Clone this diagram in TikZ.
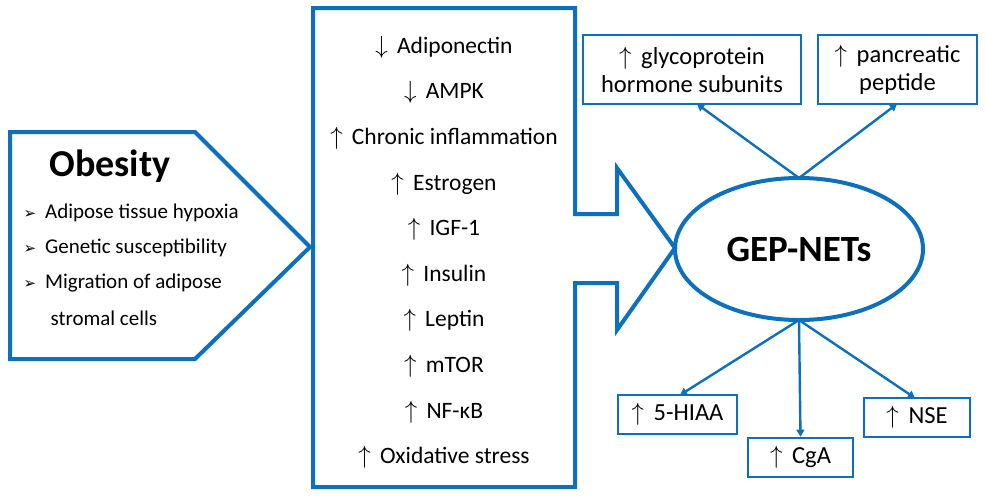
\documentclass[tikz,border=0pt]{standalone}
\usepackage{fontspec}
\setmainfont{Carlito}
\newfontfamily\symf{DejaVu Sans}
\usetikzlibrary{arrows.meta}
\definecolor{mb}{RGB}{12,112,190}
\begin{document}
\begin{tikzpicture}[x=1pt,y=-1pt,
  thick shape/.style={draw=mb,line width=4pt,line join=miter},
  sbox/.style={draw=mb,line width=2.6pt,align=center,font=\fontsize{24.5}{28}\selectfont},
  conn/.style={draw=mb,line width=2.4pt,-{Triangle[length=7pt,width=8pt]}},
  lst/.style={font=\fontsize{23.5}{26}\selectfont,anchor=center},
  bul/.style={font=\fontsize{21}{24}\selectfont,anchor=west}]
\useasboundingbox (0,0) rectangle (986,498);
% left pentagon
\draw[thick shape] (10,132) -- (195,132) -- (310,247) -- (195,359) -- (10,359) -- cycle;
\node[font=\fontsize{38}{42}\selectfont\bfseries] (ob) at (110,166) {Obesity};
\foreach \t/\y [count=\i] in {Adipose tissue hypoxia/213,Genetic susceptibility/248,Migration of adipose/283}
  \node[bul] (b\i) at (20,\y) {{\symf\fontsize{15}{16}\selectfont ➢}\hspace{9pt}\t};
\node[bul] (b4) at (47,318) {stromal cells};
% middle box with arrow
\draw[thick shape] (313,8) -- (575,8) -- (575,214) -- (617,214) -- (617,168) -- (675,248) -- (617,330) -- (617,283) -- (575,283) -- (575,487) -- (313,487) -- cycle;
\foreach \t [count=\i] in {$\downarrow$\, Adiponectin,$\downarrow$\, AMPK,$\uparrow$\, Chronic inflammation,$\uparrow$\, Estrogen,$\uparrow$\, IGF-1,$\uparrow$\, Insulin,$\uparrow$\, Leptin,$\uparrow$\, mTOR,$\uparrow$\, NF-κB,$\uparrow$\, Oxidative stress}
  \node[lst] (m\i) at (444,{47+(\i-1)*45.6}) {\t};
% ellipse
\draw[draw=mb,line width=4pt] (799,249) ellipse [x radius=124pt, y radius=71pt];
\coordinate (et) at (799,178);
\coordinate (eb) at (799,320);
\node[font=\fontsize{37}{40}\selectfont\bfseries] (gep) at (799,250) {GEP-NETs};
% boxes
\node[sbox,minimum width=218pt,minimum height=69pt] (g) at (692,69.5) {$\uparrow$\, glycoprotein\\hormone subunits};
\node[sbox,minimum width=159pt,minimum height=69pt] (p) at (897.5,69.5) {$\uparrow$\, pancreatic\\peptide};
\node[sbox,minimum width=119pt,minimum height=39pt] (h) at (677.5,414.5) {$\uparrow$\, 5-HIAA};
\node[sbox,minimum width=105pt,minimum height=39pt] (c) at (800.5,457.5) {$\uparrow$\, CgA};
\node[sbox,minimum width=106pt,minimum height=39pt] (n) at (917,417.5) {$\uparrow$\, NSE};
\draw[conn] (et) -- (697,104);
\draw[conn] (et) -- (897,104);
\draw[conn] (eb) -- (680,395);
\draw[conn] (eb) -- (c.north);
\draw[conn] (eb) -- (915,398);
\end{tikzpicture}
\end{document}
